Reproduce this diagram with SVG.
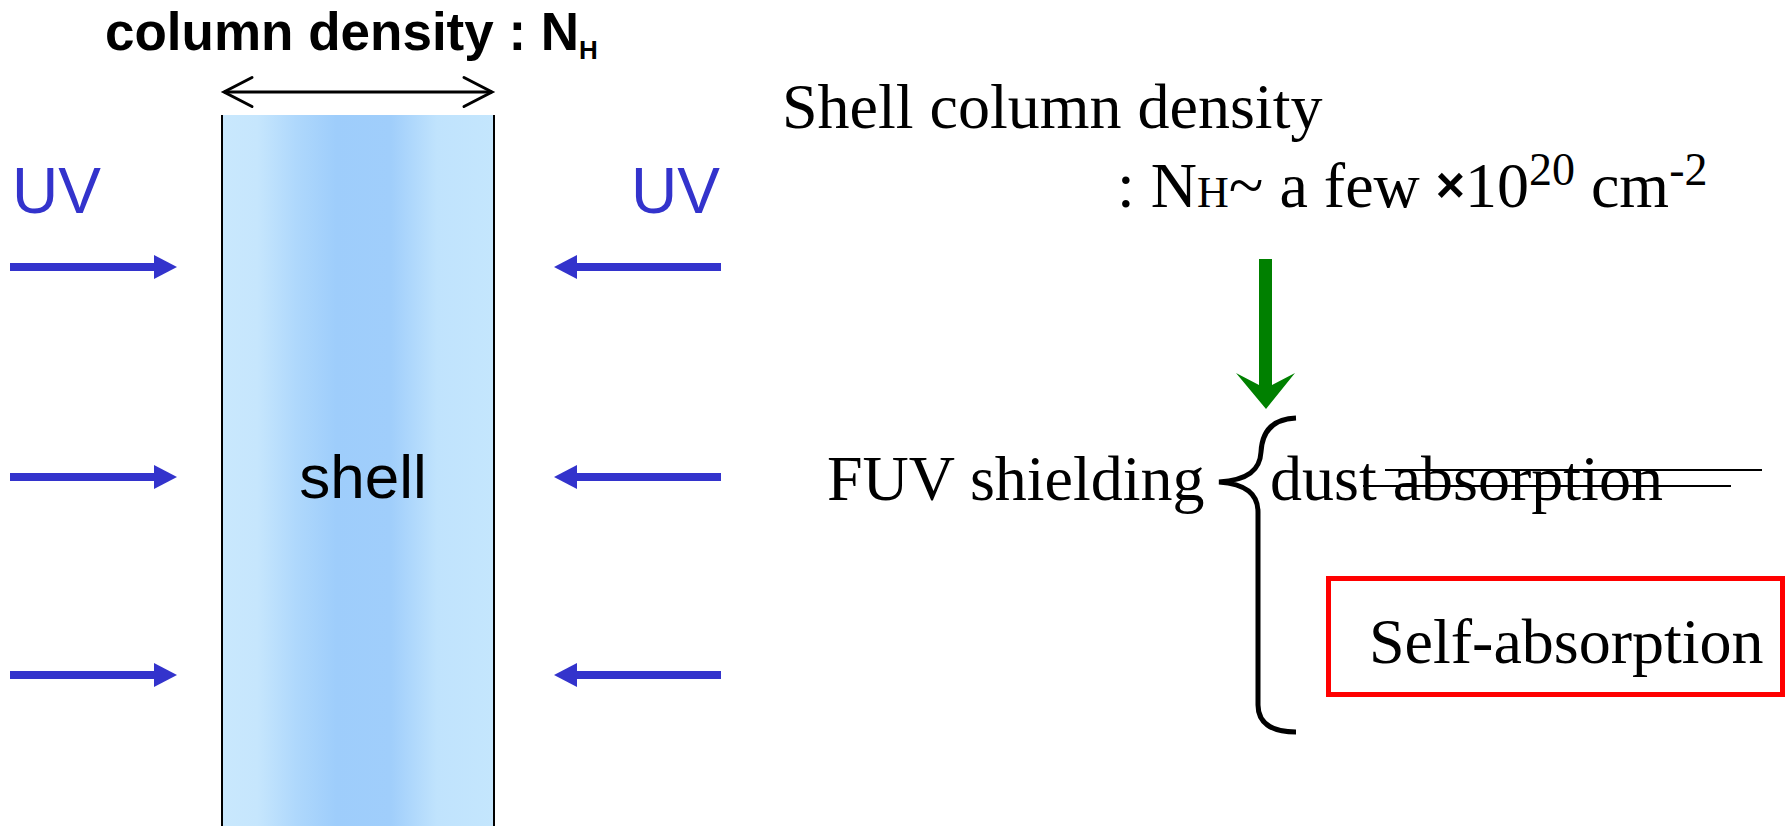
<svg xmlns="http://www.w3.org/2000/svg" width="1789" height="826" viewBox="0 0 1789 826">
<defs>
<linearGradient id="shellGrad" x1="0" y1="0" x2="1" y2="0">
<stop offset="0" stop-color="#c9e8fd"/>
<stop offset="0.13" stop-color="#c6e6fd"/>
<stop offset="0.27" stop-color="#afd8fc"/>
<stop offset="0.42" stop-color="#9ecdfb"/>
<stop offset="0.62" stop-color="#a0cefb"/>
<stop offset="0.79" stop-color="#c0e3fd"/>
<stop offset="1" stop-color="#c4e6fd"/>
</linearGradient>
<marker id="blueHead" markerUnits="userSpaceOnUse" markerWidth="24" markerHeight="24" refX="0" refY="12" orient="auto" overflow="visible">
<path d="M0,0 L23,12 L0,24 Z" fill="#3333cc"/>
</marker>
<marker id="openHead" markerUnits="userSpaceOnUse" markerWidth="32" markerHeight="32" refX="28" refY="14.5" orient="auto-start-reverse" overflow="visible">
<path d="M0,0 L28,14.5 L0,29" fill="none" stroke="#000" stroke-width="3" stroke-linecap="round" stroke-linejoin="miter"/>
</marker>
<style>
.sans{font-family:"Liberation Sans",Arial,sans-serif}
.serif{font-family:"Liberation Serif","Times New Roman",serif;fill:#000}
.uv{font-family:"Liberation Sans",Arial,sans-serif;font-size:64px;fill:#3333cc}
.blue{stroke:#3333cc;stroke-width:8;fill:none}
</style>
</defs>
<rect width="1789" height="826" fill="#fff"/>

<g id="title">
<text class="sans" x="105" y="50" font-size="53" font-weight="bold" fill="#000">column density : N<tspan font-size="26" dy="9">H</tspan></text>
</g>

<g id="shell">
<rect x="222" y="115" width="272" height="720" fill="url(#shellGrad)"/>
<line x1="222" y1="115" x2="222" y2="826" stroke="#000" stroke-width="2"/>
<line x1="494" y1="115" x2="494" y2="826" stroke="#000" stroke-width="2"/>
<text class="sans" x="363" y="498" font-size="62" text-anchor="middle" fill="#000">shell</text>
</g>

<g id="uv-left">
<text class="uv" x="12" y="213">UV</text>
</g>
<g id="uv-right">
<text class="uv" x="631" y="213">UV</text>
</g>

<g id="shell-column-density">
<text class="serif" x="782" y="128" font-size="64">Shell column density</text>
<text class="serif" y="207" font-size="64"><tspan x="1117">: N</tspan><tspan font-size="44">H</tspan><tspan>~ a few </tspan><tspan class="sans" font-weight="bold" font-size="50" dy="-5">×</tspan><tspan dy="5">10</tspan><tspan font-size="46" dy="-22">20</tspan><tspan dy="22"> cm</tspan><tspan font-size="46" dy="-22">-2</tspan></text>
</g>

<g id="fuv-shielding">
<text class="serif" x="827" y="500" font-size="64">FUV shielding</text>
</g>

<g id="brace">
<path d="M1296,418 C1272,419 1262,432 1261,452 C1260,470 1248,480 1219,482 C1246,484 1258,494 1258,512 L1258,705 C1258,722 1270,732 1296,732" fill="none" stroke="#000" stroke-width="5"/>
</g>

<g id="dust-absorption">
<text class="serif" x="1270" y="500" font-size="64">dust absorption</text>
<line x1="1385" y1="470" x2="1762" y2="470" stroke="#000" stroke-width="2"/>
<line x1="1363" y1="486" x2="1731" y2="486" stroke="#000" stroke-width="2"/>
</g>

<g id="self-absorption">
<rect x="1328.5" y="578.5" width="454" height="116" fill="none" stroke="#ff0000" stroke-width="5"/>
<text class="serif" x="1369" y="663" font-size="64">Self-absorption</text>
</g>

<g id="connectors">
<line x1="224" y1="92" x2="492" y2="92" stroke="#000" stroke-width="3" marker-start="url(#openHead)" marker-end="url(#openHead)"/>
<line class="blue" x1="10" y1="267" x2="154" y2="267" marker-end="url(#blueHead)"/>
<line class="blue" x1="10" y1="477" x2="154" y2="477" marker-end="url(#blueHead)"/>
<line class="blue" x1="10" y1="675" x2="154" y2="675" marker-end="url(#blueHead)"/>
<line class="blue" x1="721" y1="267" x2="577" y2="267" marker-end="url(#blueHead)"/>
<line class="blue" x1="721" y1="477" x2="577" y2="477" marker-end="url(#blueHead)"/>
<line class="blue" x1="721" y1="675" x2="577" y2="675" marker-end="url(#blueHead)"/>
<polygon points="1259,259 1272,259 1272,385 1295,373 1266,409 1236,373 1259,385" fill="#008000"/>
</g>
</svg>
